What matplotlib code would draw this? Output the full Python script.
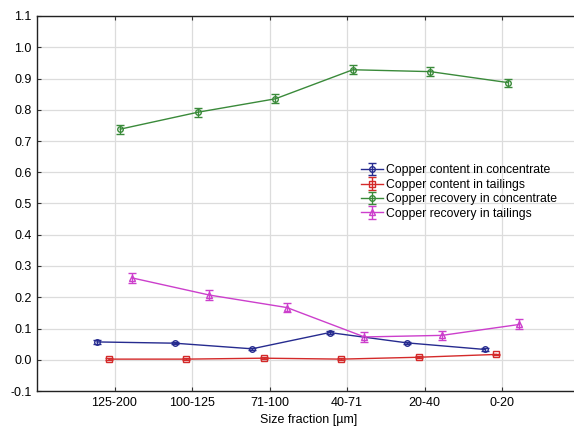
import numpy as np
import matplotlib
matplotlib.use('Agg')
import matplotlib.pyplot as plt

# --- data ---
fractions = ['125-200', '100-125', '71-100', '40-71', '20-40', '0-20']

cu_content_conc = [0.057, 0.053, 0.035, 0.087, 0.054, 0.033]
cu_content_tail = [0.002, 0.002, 0.005, 0.002, 0.008, 0.017]
cu_recovery_conc = [0.738, 0.792, 0.835, 0.928, 0.922, 0.887]
cu_recovery_tail = [0.262, 0.207, 0.167, 0.073, 0.078, 0.113]

err_content_conc = [0.005, 0.004, 0.004, 0.005, 0.004, 0.004]
err_content_tail = [0.003, 0.003, 0.003, 0.003, 0.003, 0.003]
err_recovery_conc = [0.014, 0.014, 0.014, 0.014, 0.014, 0.013]
err_recovery_tail = [0.015, 0.015, 0.015, 0.015, 0.015, 0.016]

labels = ['Copper content in concentrate', 'Copper content in tailings',
          'Copper recovery in concentrate', 'Copper recovery in tailings']

plt.rcParams.update({
    'font.family': ['Liberation Sans', 'DejaVu Sans'],
    'font.size': 9,
})

fig = plt.figure(figsize=(5.74, 4.33), dpi=100)
fig.patch.set_facecolor('white')
ax = fig.add_axes([37 / 574, 42 / 433, 542.5 / 574, 375 / 433])

x = np.arange(len(fractions))
series = [
    (cu_content_conc, err_content_conc, '#262b8f', 'o', -0.225),
    (cu_content_tail, err_content_tail, '#d42a2a', 's', -0.075),
    (cu_recovery_conc, err_recovery_conc, '#3a8a3a', 'o', 0.075),
    (cu_recovery_tail, err_recovery_tail, '#cc3fcc', '^', 0.225),
]

for (vals, errs, col, mk, off), lab in zip(series, labels):
    ax.errorbar(x + off, vals, yerr=errs, color=col, marker=mk, markersize=4,
                markerfacecolor='none', markeredgecolor=col, markeredgewidth=1.0,
                linewidth=1.0, elinewidth=1.0, capsize=3, capthick=1.0,
                label=lab, zorder=3)

ax.set_xlim(-1, 6)
ax.set_ylim(-0.1, 1.1)
ax.set_yticks(np.arange(-0.1, 1.11, 0.1))
ax.set_yticklabels([f'{v:.1f}' for v in np.arange(-0.1, 1.11, 0.1)])
ax.set_xticks(x)
ax.set_xticklabels(fractions)
ax.set_xlabel('Size fraction [µm]', labelpad=4)

ax.grid(True, color='#dcdcdc', linewidth=0.9, zorder=0)
ax.set_axisbelow(True)
ax.tick_params(axis='both', direction='in', length=3, color='#333333', pad=4,
               top=True)
for s in ax.spines.values():
    s.set_color('#222222')
    s.set_linewidth(1.0)

ax.legend(loc='upper left', bbox_to_anchor=(0.582, 0.627), frameon=False,
          fontsize=8.8, handlelength=1.75, handletextpad=0.3,
          labelspacing=0.2, borderpad=0.2)

fig.savefig('out.png', dpi=100, facecolor='white')
